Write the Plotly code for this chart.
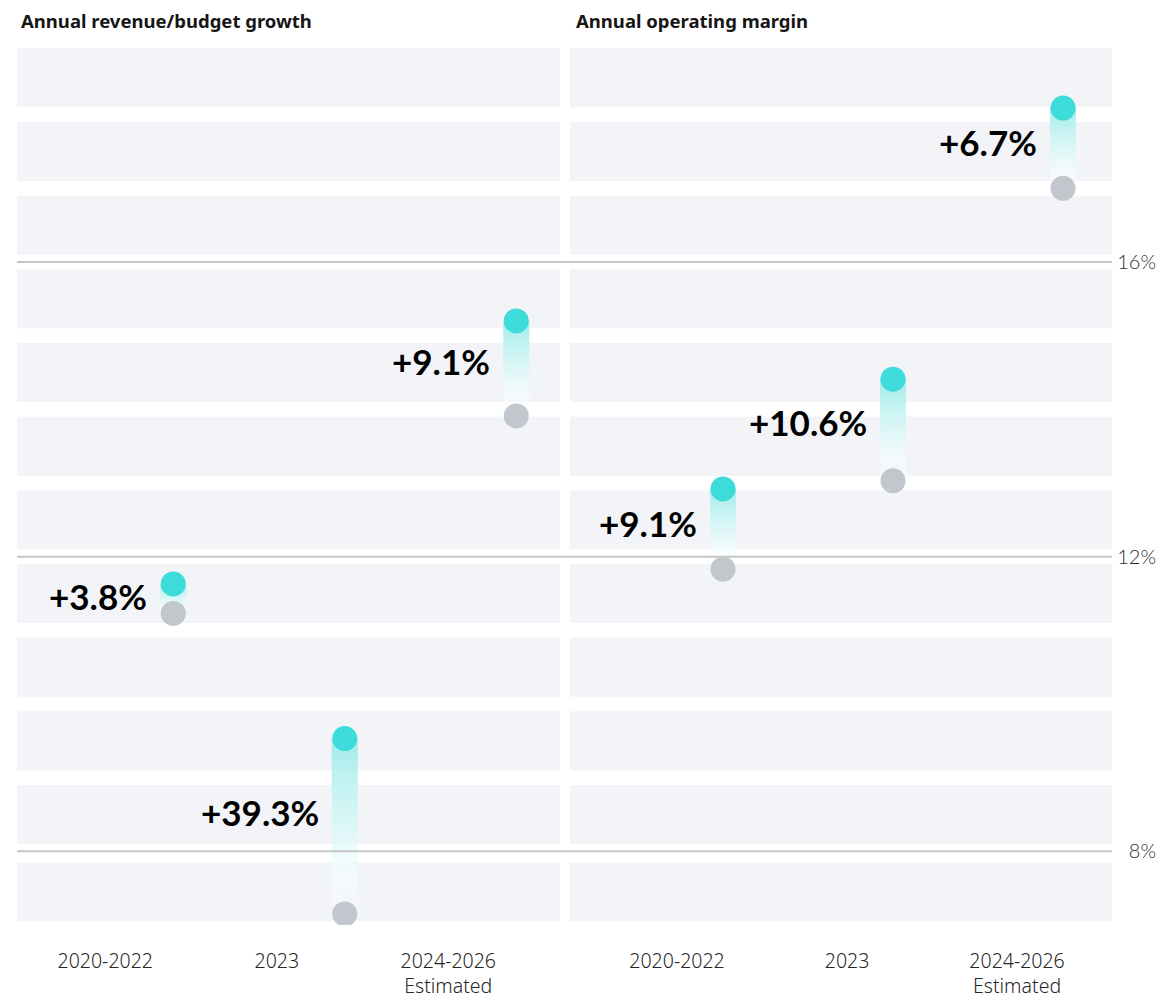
import plotly.graph_objects as go

# ---------------- data ----------------
categories = ["2020-2022", "2023", "2024-2026<br>Estimated"]

rev_title = "Annual revenue/budget growth"
rev_start = [11.23, 7.15, 13.91]    # grey dots
rev_end = [11.63, 9.53, 15.20]      # teal dots
rev_labels = ["+3.8%", "+39.3%", "+9.1%"]

mar_title = "Annual operating margin"
mar_start = [11.83, 13.03, 17.00]
mar_end = [12.92, 14.41, 18.09]
mar_labels = ["+9.1%", "+10.6%", "+6.7%"]

y_ticks = [8, 12, 16]
y_ticktext = ["8%", "12%", "16%"]

# ---------------- styling ----------------
TEAL = "#3ddbd9"
GREY = "#c1c7cd"
BAND = "#f2f4f8"
GRID = "#c6c6c6"
W, H = 1159, 1000
ML, MR, MT, MB = 17, 3, 41, 75
PW = W - ML - MR
x1_dom = [0, 543 / PW]
x2_dom = [553 / PW, 1095 / PW]
half_w = 0.076

fig = go.Figure()

panels = [
    ("x", rev_start, rev_end, rev_labels),
    ("x2", mar_start, mar_end, mar_labels),
]

annotations = []
for xref, starts, ends, labels in panels:
    idx = list(range(len(categories)))
    # gradient bars
    for i, (s, e) in enumerate(zip(starts, ends)):
        fig.add_trace(go.Scatter(
            x=[i - half_w, i + half_w, i + half_w, i - half_w, i - half_w],
            y=[s, s, e, e, s],
            xaxis=xref, yaxis="y",
            mode="lines", line=dict(width=0),
            fill="toself",
            fillgradient=dict(
                type="vertical",
                colorscale=[[0, "rgba(255,255,255,0)"],
                            [0.18, "rgba(248,254,254,0.6)"],
                            [1, "rgba(160,236,234,1)"]],
            ),
            hoverinfo="skip", showlegend=False,
        ))
    # dots
    fig.add_trace(go.Scatter(
        x=idx, y=starts, xaxis=xref, yaxis="y", mode="markers",
        marker=dict(size=25, color=GREY, line=dict(width=0)),
        showlegend=False,
    ))
    fig.add_trace(go.Scatter(
        x=idx, y=ends, xaxis=xref, yaxis="y", mode="markers",
        marker=dict(size=25, color=TEAL, line=dict(width=0)),
        showlegend=False,
    ))
    # value labels
    for i, (s, e, t) in enumerate(zip(starts, ends, labels)):
        annotations.append(dict(
            x=i, y=e - 0.42 * (e - s), xref=xref, yref="y",
            text=t, showarrow=False, xanchor="right", yanchor="middle",
            xshift=-24,
            font=dict(family="Lato", size=35, color="#000000", weight="bold"),
        ))

# titles
title_y = 1 + (MT - 20) / (H - MT - MB)
annotations.append(dict(
    x=(19 - ML) / PW, y=title_y, xref="paper", yref="paper",
    text=rev_title, showarrow=False, xanchor="left", yanchor="middle",
    font=dict(family="Noto Sans", size=18.5, color="#161616", weight="bold"),
))
annotations.append(dict(
    x=(574 - ML) / PW, y=title_y, xref="paper", yref="paper",
    text=mar_title, showarrow=False, xanchor="left", yanchor="middle",
    font=dict(family="Noto Sans", size=18.5, color="#161616", weight="bold"),
))

shapes = []
# background bands
for dom in ("x domain", "x2 domain"):
    for n in range(8, 19):
        shapes.append(dict(type="rect", xref=dom, yref="y", x0=0, x1=1,
                           y0=n + 0.1, y1=n + 0.9, fillcolor=BAND,
                           line=dict(width=0), layer="below"))
    shapes.append(dict(type="rect", xref=dom, yref="y", x0=0, x1=1,
                       y0=7.05, y1=7.85, fillcolor=BAND,
                       line=dict(width=0), layer="below"))
# grid lines spanning both panels
for v in y_ticks:
    shapes.append(dict(type="line", xref="paper", yref="y", x0=0, x1=x2_dom[1],
                       y0=v, y1=v, line=dict(color=GRID, width=2), layer="above"))

tickfont = dict(family="Noto Sans", size=19.5, color="#262626", weight=300)
common_x = dict(showgrid=False, zeroline=False, showline=False, ticks="",
                tickvals=[0, 1, 2], ticktext=categories, tickfont=tickfont,
                fixedrange=True, automargin=False, ticklabelstandoff=22)

fig.update_layout(
    width=W, height=H,
    margin=dict(l=ML, r=MR, t=MT, b=MB),
    paper_bgcolor="white", plot_bgcolor="white",
    showlegend=False,
    xaxis=dict(domain=x1_dom, range=[-0.911, 2.255], anchor="y",
               ticklabelshift=-68, **common_x),
    xaxis2=dict(domain=x2_dom, range=[-0.9, 2.288], anchor="y",
                ticklabelshift=-46, **common_x),
    yaxis=dict(range=[7, 19], anchor="free", position=1, side="left",
               tickvals=y_ticks, ticktext=y_ticktext, showgrid=False,
               zeroline=False, showline=False, ticks="", automargin=False,
               tickfont=dict(family="Lato", size=20, color="#2e2e2e", weight=300)),
    shapes=shapes,
    annotations=annotations,
)

fig.write_html("out.html")
